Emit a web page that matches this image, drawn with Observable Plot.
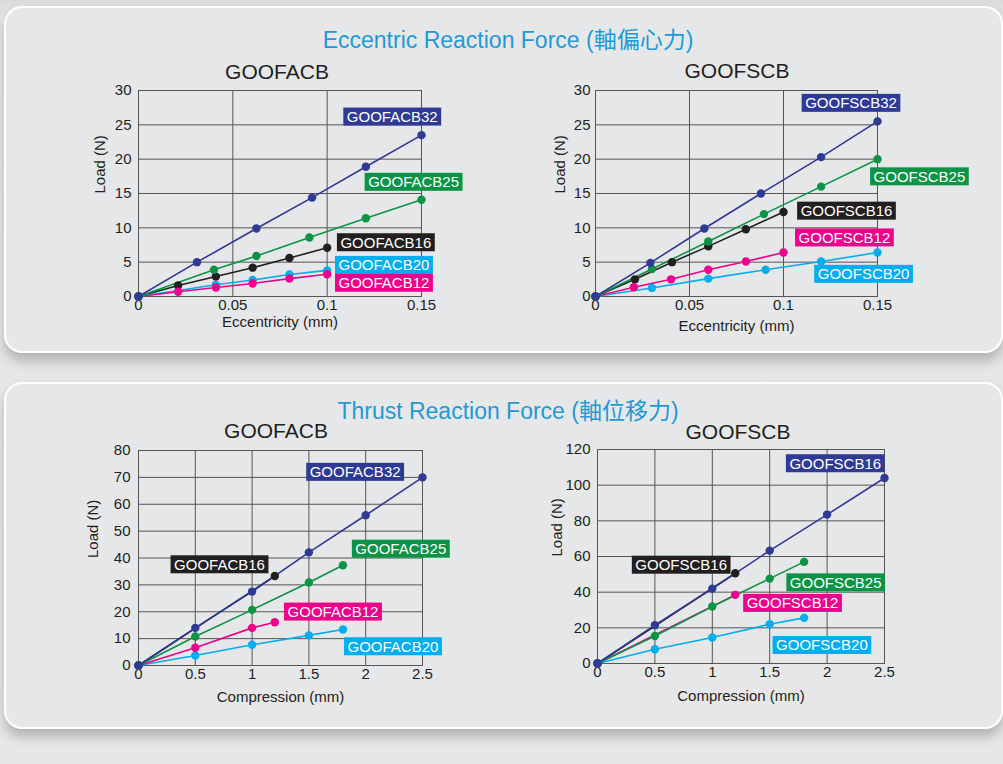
<!DOCTYPE html>
<html>
<head>
<meta charset="utf-8">
<script src="https://cdn.jsdelivr.net/npm/d3@7"></script>
<script src="https://cdn.jsdelivr.net/npm/@observablehq/plot@0.6"></script>
<style>
  html, body { margin: 0; padding: 0; }
  body {
    width: 1003px; height: 764px; position: relative; overflow: hidden;
    background: linear-gradient(#d9dadc 0px, #e4e5e6 20px, #e6e7e8 100%);
    font-family: "Liberation Sans", Arial, "Noto Sans CJK TC", sans-serif;
  }
  .box {
    position: absolute; box-sizing: border-box;
    border: 2px solid #ffffff; border-radius: 18px;
    background: #e6e7e8;
    box-shadow: 0 8px 12px rgba(0,0,0,0.22);
  }
  .title {
    position: absolute; transform: translate(-50%, -50%);
    white-space: nowrap; color: #1f9ad6; font-size: 23px;
  }
  .ptitle {
    position: absolute; transform: translate(-50%, -50%);
    white-space: nowrap; color: #231f20; font-size: 21px;
  }
  .panel { position: absolute; }
  .panel svg text { font-size: 15px; }
  .panel svg text[aria-label="lbl"] { font-size: 15px; }
</style>
</head>
<body>
<div class="box" style="left:4px; top:6px; width:999px; height:347px;"></div>
<div class="box" style="left:4px; top:382px; width:999px; height:347px;"></div>
<div class="title" style="left:508px; top:38px;">Eccentric Reaction Force (軸偏心力)</div>
<div class="title" style="left:508px; top:409px;">Thrust Reaction Force (軸位移力)</div>
<div class="ptitle" style="left:277px; top:72px;">GOOFACB</div>
<div class="ptitle" style="left:737px; top:71px;">GOOFSCB</div>
<div class="ptitle" style="left:276px; top:431px;">GOOFACB</div>
<div class="ptitle" style="left:738px; top:432px;">GOOFSCB</div>
<div id="p1" class="panel" style="left:60px; top:82px;"></div>
<div id="p2" class="panel" style="left:520px; top:82px;"></div>
<div id="p3" class="panel" style="left:60px; top:440px;"></div>
<div id="p4" class="panel" style="left:520px; top:440px;"></div>
<script>
// ---------- colours ----------
const BLUE = "#2e3a94", GREEN = "#0b9446", BLACK = "#231f20", CYAN = "#00aeef", PINK = "#ec008c";

// ---------- Panel 1: Eccentric, GOOFACB ----------
const eccA_series = ["GOOFACB16", "GOOFACB20", "GOOFACB12", "GOOFACB25", "GOOFACB32"];
const eccA_colors = [BLACK, CYAN, PINK, GREEN, BLUE];
const eccA_x = [
  [0, 0.021, 0.041, 0.0605, 0.080, 0.100],
  [0, 0.041, 0.0605, 0.080, 0.100],
  [0, 0.021, 0.041, 0.0605, 0.080, 0.100],
  [0, 0.040, 0.0625, 0.0906, 0.1205, 0.150],
  [0, 0.031, 0.0625, 0.092, 0.1205, 0.150]
];
const eccA_y = [
  [0, 1.6, 2.9, 4.2, 5.6, 7.1],
  [0, 1.7, 2.4, 3.2, 3.8],
  [0, 0.7, 1.3, 1.9, 2.6, 3.25],
  [0, 3.9, 5.9, 8.6, 11.4, 14.1],
  [0, 5.0, 9.9, 14.4, 18.9, 23.5]
];
const eccA_labelX = [0.1311, 0.1301, 0.1301, 0.1458, 0.1345];
const eccA_labelY = [7.8, 4.5, 1.9, 16.6, 26.1];
const eccA_xTicks = [0, 0.05, 0.1, 0.15];
const eccA_yTicks = [0, 5, 10, 15, 20, 25, 30];

// ---------- Panel 2: Eccentric, GOOFSCB ----------
const eccS_series = ["GOOFSCB16", "GOOFSCB20", "GOOFSCB12", "GOOFSCB25", "GOOFSCB32"];
const eccS_colors = [BLACK, CYAN, PINK, GREEN, BLUE];
const eccS_x = [
  [0, 0.021, 0.0407, 0.060, 0.080, 0.100],
  [0, 0.030, 0.060, 0.0905, 0.120, 0.150],
  [0, 0.0204, 0.0402, 0.060, 0.080, 0.100],
  [0, 0.030, 0.060, 0.0896, 0.120, 0.150],
  [0, 0.0292, 0.0579, 0.088, 0.120, 0.150]
];
const eccS_y = [
  [0, 2.5, 5.0, 7.3, 9.8, 12.3],
  [0, 1.25, 2.6, 3.9, 5.1, 6.4],
  [0, 1.35, 2.5, 3.9, 5.1, 6.4],
  [0, 4.0, 8.0, 12.0, 16.0, 20.0],
  [0, 4.9, 9.9, 15.0, 20.3, 25.5]
];
const eccS_labelX = [0.1335, 0.1426, 0.1324, 0.1723, 0.1359];
const eccS_labelY = [12.4, 3.2, 8.5, 17.4, 28.1];
const eccS_xTicks = [0, 0.05, 0.1, 0.15];
const eccS_yTicks = [0, 5, 10, 15, 20, 25, 30];

// ---------- Panel 3: Thrust, GOOFACB ----------
const thrA_series = ["GOOFACB16", "GOOFACB20", "GOOFACB12", "GOOFACB25", "GOOFACB32"];
const thrA_colors = [BLACK, CYAN, PINK, GREEN, BLUE];
const thrA_x = [
  [0, 1.2],
  [0, 0.5, 1.0, 1.5, 1.8],
  [0, 0.5, 1.0, 1.2],
  [0, 0.5, 1.0, 1.5, 1.8],
  [0, 0.5, 1.0, 1.5, 2.0, 2.5]
];
const thrA_y = [
  [0, 33.3],
  [0, 3.7, 7.7, 11.2, 13.4],
  [0, 6.6, 14.0, 16.1],
  [0, 10.8, 20.7, 30.9, 37.3],
  [0, 14.0, 27.5, 42.1, 55.9, 70.0]
];
const thrA_labelX = [0.713, 2.240, 1.712, 2.309, 1.907];
const thrA_labelY = [37.4, 6.9, 19.8, 43.2, 71.8];
const thrA_xTicks = [0, 0.5, 1, 1.5, 2, 2.5];
const thrA_yTicks = [0, 10, 20, 30, 40, 50, 60, 70, 80];

// ---------- Panel 4: Thrust, GOOFSCB ----------
const thrS_series = ["GOOFSCB16", "GOOFSCB20", "GOOFSCB12", "GOOFSCB25", "GOOFSCB16"];
const thrS_colors = [BLACK, CYAN, PINK, GREEN, BLUE];
const thrS_x = [
  [0, 1.2],
  [0, 0.5, 1.0, 1.5, 1.8],
  [0, 1.2],
  [0, 0.5, 1.0, 1.5, 1.8],
  [0, 0.5, 1.0, 1.5, 2.0, 2.5]
];
const thrS_y = [
  [0, 50.6],
  [0, 8.0, 14.6, 22.0, 25.6],
  [0, 38.5],
  [0, 15.4, 32.0, 47.6, 57.0],
  [0, 21.5, 42.0, 63.3, 83.5, 104.0]
];
const thrS_labelX = [0.729, 1.955, 1.699, 2.075, 2.071];
const thrS_labelY = [55.0, 10.0, 33.6, 45.1, 111.9];
const thrS_xTicks = [0, 0.5, 1, 1.5, 2, 2.5];
const thrS_yTicks = [0, 20, 40, 60, 80, 100, 120];

// ---------- drawing ----------
const GRID = "#555555";
const FONT = "'Liberation Sans', Arial, sans-serif";

function drawPanel(target, cfg) {
  const { series, colors, xs, ys, labelX, labelY, xTicks, yTicks, xLabel, yLabel, layout } = cfg;
  const rows = series.map((s, k) => xs[k].map((x, i) => ({ s, x, y: ys[k][i] })));
  const labels = series.map((s, k) => ({ s, x: labelX[k], y: labelY[k], c: colors[k] }));
  const marks = [
    Plot.ruleX(xTicks, { stroke: GRID, strokeWidth: 1 }),
    Plot.ruleY(yTicks, { stroke: GRID, strokeWidth: 1 }),
    Plot.frame({ stroke: GRID, strokeWidth: 1 }),
    ...rows.map((r, k) => Plot.line(r, { x: "x", y: "y", stroke: colors[k], strokeWidth: 1.6 })),
    ...rows.map((r, k) => Plot.dot(r, { x: "x", y: "y", r: 4.2, fill: colors[k], stroke: "none" })),
    Plot.text(labels, { x: "x", y: "y", text: "s", fill: "white", fontSize: 15, ariaLabel: () => "lbl" }),
    Plot.text([xLabel], { text: d => d, frameAnchor: "bottom", dy: layout.xLabelDy, fontSize: 15, fill: "#231f20" }),
    Plot.text([yLabel], { text: d => d, frameAnchor: "left", rotate: -90, dx: -layout.yLabelDx, fontSize: 15, fill: "#231f20" })
  ];
  const svg = Plot.plot({
    width: layout.width, height: layout.height,
    marginLeft: layout.ml, marginRight: layout.mr, marginTop: layout.mt, marginBottom: layout.mb,
    style: { background: "transparent", fontSize: "15px", fontFamily: FONT, color: "#231f20", overflow: "visible" },
    x: { domain: [xTicks[0], xTicks[xTicks.length - 1]], ticks: xTicks, tickFormat: d => String(d), tickSize: 0, tickPadding: 3, label: null },
    y: { domain: [yTicks[0], yTicks[yTicks.length - 1]], ticks: yTicks, tickFormat: d => String(d), tickSize: 0, tickPadding: layout.yPad, label: null },
    marks
  });
  document.getElementById(target).append(svg);
  // colored boxes behind the series labels
  const ns = "http://www.w3.org/2000/svg";
  let texts = Array.from(svg.querySelectorAll('text[aria-label="lbl"]'));
  if (texts.length === 0) texts = Array.from(svg.querySelectorAll('g[aria-label="lbl"] text'));
  texts.forEach((t, i) => {
    const b = t.getBBox();
    const r = document.createElementNS(ns, "rect");
    r.setAttribute("x", b.x - 3.5);
    r.setAttribute("y", b.y - 0.5);
    r.setAttribute("width", b.width + 7);
    r.setAttribute("height", b.height + 1);
    r.setAttribute("fill", labels[i].c);
    const tr = t.getAttribute("transform");
    if (tr) r.setAttribute("transform", tr);
    t.parentNode.insertBefore(r, t);
  });
}

drawPanel("p1", {
  series: eccA_series, colors: eccA_colors, xs: eccA_x, ys: eccA_y,
  labelX: eccA_labelX, labelY: eccA_labelY, xTicks: eccA_xTicks, yTicks: eccA_yTicks,
  xLabel: "Eccentricity (mm)", yLabel: "Load (N)",
  layout: { width: 420, height: 262, ml: 78, mr: 59, mt: 8, mb: 48, yPad: 7, xLabelDy: 30, yLabelDx: 38 }
});
drawPanel("p2", {
  series: eccS_series, colors: eccS_colors, xs: eccS_x, ys: eccS_y,
  labelX: eccS_labelX, labelY: eccS_labelY, xTicks: eccS_xTicks, yTicks: eccS_yTicks,
  xLabel: "Eccentricity (mm)", yLabel: "Load (N)",
  layout: { width: 470, height: 262, ml: 75, mr: 113, mt: 8, mb: 48, yPad: 5, xLabelDy: 34, yLabelDx: 35 }
});
drawPanel("p3", {
  series: thrA_series, colors: thrA_colors, xs: thrA_x, ys: thrA_y,
  labelX: thrA_labelX, labelY: thrA_labelY, xTicks: thrA_xTicks, yTicks: thrA_yTicks,
  xLabel: "Compression (mm)", yLabel: "Load (N)",
  layout: { width: 420, height: 275, ml: 78, mr: 58, mt: 10, mb: 50, yPad: 8, xLabelDy: 36, yLabelDx: 45 }
});
drawPanel("p4", {
  series: thrS_series, colors: thrS_colors, xs: thrS_x, ys: thrS_y,
  labelX: thrS_labelX, labelY: thrS_labelY, xTicks: thrS_xTicks, yTicks: thrS_yTicks,
  xLabel: "Compression (mm)", yLabel: "Load (N)",
  layout: { width: 470, height: 275, ml: 77, mr: 106, mt: 9, mb: 52, yPad: 7, xLabelDy: 37, yLabelDx: 40 }
});
</script>
</body>
</html>
